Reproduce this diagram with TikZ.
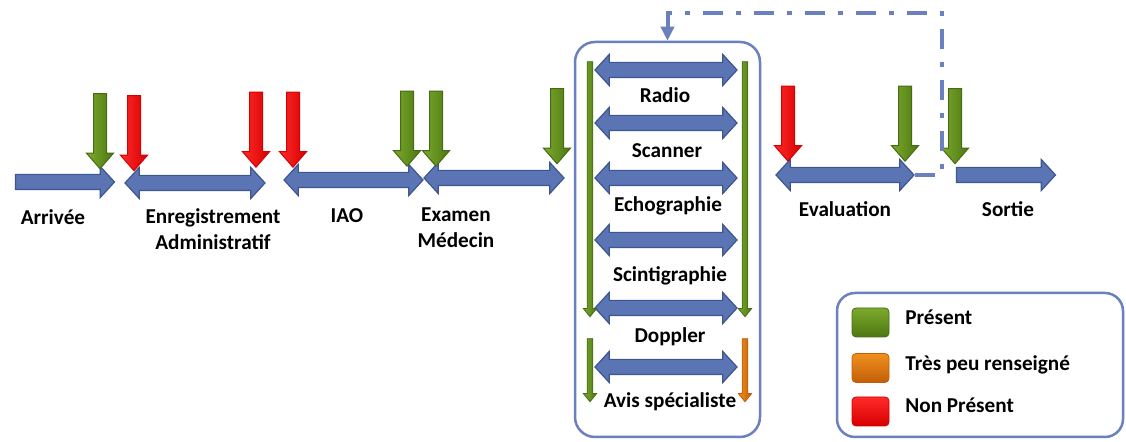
\documentclass[tikz,border=0pt]{standalone}
\usepackage{fontspec}
\setmainfont{Carlito}
\usepackage{tikz}
\usetikzlibrary{arrows.meta,positioning,calc,shapes.arrows}

\definecolor{flowblue}{HTML}{5A74B4}
\definecolor{flowedge}{HTML}{3E5690}
\definecolor{frameblue}{HTML}{6A80BF}
\definecolor{greenlight}{HTML}{7CAA2C}
\definecolor{greendark}{HTML}{4C7712}
\definecolor{greenedge}{HTML}{466B14}
\definecolor{redlight}{HTML}{FF2A2A}
\definecolor{reddark}{HTML}{D60000}
\definecolor{orangelight}{HTML}{F0901E}
\definecolor{orangedark}{HTML}{C25E08}

\tikzset{
  flow/.style={double arrow, draw=flowedge, fill=flowblue, line width=0.6pt,
    inner sep=3.5pt, minimum width=15pt, double arrow head extend=4pt,
    double arrow tip angle=95, minimum height=#1},
  flowone/.style={single arrow, draw=flowedge, fill=flowblue, line width=0.6pt,
    inner sep=3.5pt, minimum width=15pt, single arrow head extend=4pt,
    single arrow tip angle=95, minimum height=#1},
  marker/.style={single arrow, shape border rotate=270, inner sep=3pt,
    minimum height=37.5pt, minimum width=13pt, single arrow head extend=3.5pt,
    single arrow tip angle=82, line width=0.5pt},
  thinmarker/.style={single arrow, shape border rotate=270, inner sep=1.2pt,
    minimum height=#1, minimum width=6.5pt, single arrow head extend=1.9pt,
    single arrow tip angle=78, line width=0.4pt},
  presentfill/.style={left color=greenlight, right color=greendark, draw=greenedge},
  absentfill/.style={left color=redlight, right color=reddark, draw=reddark},
  scarcefill/.style={left color=orangelight, right color=orangedark, draw=orangedark},
  swatch/.style={rounded corners=2pt, minimum width=18.5pt, minimum height=14.5pt,
    inner sep=0pt},
  panel/.style={draw=frameblue, line width=1.25pt, rounded corners=10pt, inner sep=0pt},
  loopback/.style={draw=frameblue, line width=2pt,
    dash pattern=on 10pt off 6.5pt on 2.5pt off 6.5pt,
    -{Triangle[length=7pt,width=6.5pt]}},
  txt/.style={font=\fontsize{10.6}{13}\selectfont\bfseries, inner sep=0pt, anchor=base}
}

\begin{document}
\begin{tikzpicture}[x=0.5pt,y=-0.5pt]
  \useasboundingbox (0,0) rectangle (1126,442);

  % parcours principal
  \node[flowone=49.5pt] (arrivee) at (61.5,182) {};
  \node[flow=70pt] (enreg) at (195,183) {};
  \node[flow=69.5pt] (iao) at (353.5,180) {};
  \node[flow=70pt] (examen) at (494,178) {};
  \node[flow=69pt] (evalarr) at (845,175) {};
  \node[flowone=49.5pt] (sortie) at (1002.5,175) {};

  % etapes
  \node[txt] (arrtxt) at (53,225) {Arrivée};
  \node[txt, align=center] (enregtxt) at (213,250) {Enregistrement\\Administratif};
  \node[txt] (iaotxt) at (347,223) {IAO};
  \node[txt, align=center] (examtxt) at (456,248) {Examen\\Médecin};
  \node[txt] (evaltxt) at (845,217) {Evaluation};
  \node[txt] (sortxt) at (1008,217) {Sortie};

  % marqueurs
  \foreach \x/\y/\kind [count=\i] in {100/127.5/presentfill, 134/129.5/absentfill,
      256/126/absentfill, 293/126/absentfill, 407/125/presentfill,
      436/125/presentfill, 557/122.5/presentfill, 788/120/absentfill,
      905/120/presentfill, 955/122.5/presentfill}
    \node[marker, \kind] (m\i) at (\x,\y) {};

  % examens complementaires
  \node[panel, minimum width=92.5pt, minimum height=197.5pt] (examens) at (667.5,239.5) {};
  \foreach \y [count=\i] in {70,123,178,240,308,367}
    \node[flow=71pt] (imaging\i) at (666,\y) {};
  \node[thinmarker=127.5pt, presentfill] (leftlong) at (590,187.5) {};
  \node[thinmarker=127.5pt, presentfill] (rightlong) at (745,187.5) {};
  \node[thinmarker=31.5pt, presentfill] (leftshort) at (590,368.5) {};
  \node[thinmarker=31.5pt, scarcefill] (rightshort) at (745,368.5) {};

  \node[txt] (radio) at (665,103) {Radio};
  \node[txt] (scanner) at (667,158) {Scanner};
  \node[txt] (echo) at (668,212) {Echographie};
  \node[txt] (scinti) at (670,282) {Scintigraphie};
  \node[txt] (doppler) at (670,343) {Doppler};
  \node[txt] (avis) at (670,408) {Avis spécialiste};

  % retour
  \coordinate (loop) at (942,13);
  \draw[loopback] (evalarr.east) -| (loop) -| (examens.north);

  % legende
  \node[panel, rounded corners=9pt, minimum width=143pt, minimum height=72pt] (legend) at (980,365) {};
  \node[swatch, top color=greenlight, bottom color=greendark, draw=greenedge] (lgreen) at (870.5,322.5) {};
  \node[swatch, top color=orangelight, bottom color=orangedark, draw=orangedark] (lorange) at (870.5,368) {};
  \node[swatch, top color=redlight, bottom color=reddark, draw=reddark] (lred) at (870.5,411.5) {};
  \node[txt, anchor=base west] (lpresent) at (905,325) {Présent};
  \node[txt, anchor=base west] (lpeu) at (905,371) {Très peu renseigné};
  \node[txt, anchor=base west] (lnon) at (905,413) {Non Présent};
\end{tikzpicture}
\end{document}
